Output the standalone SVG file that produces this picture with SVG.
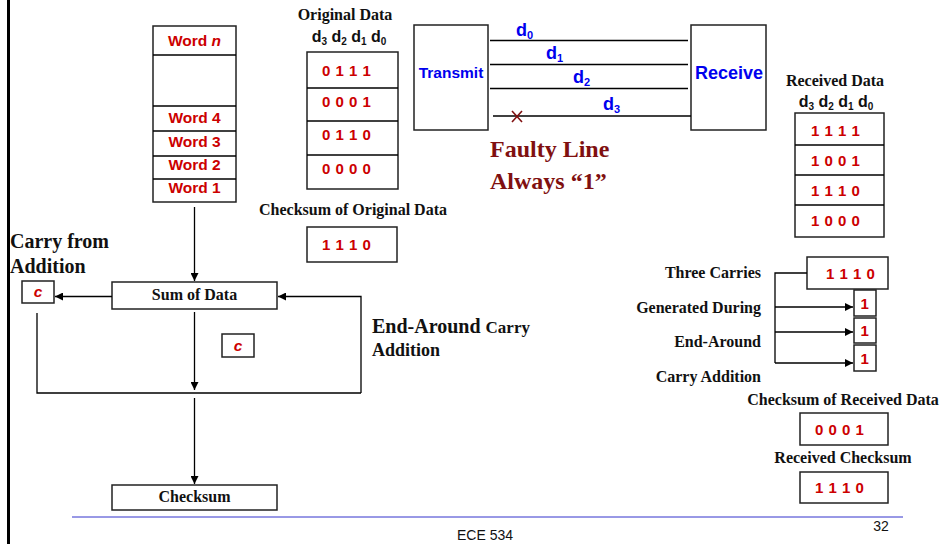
<svg xmlns="http://www.w3.org/2000/svg" width="952" height="544" viewBox="0 0 952 544">
<defs>
<marker id="ah" viewBox="0 0 10 10" refX="10" refY="5" markerWidth="8" markerHeight="8" markerUnits="userSpaceOnUse" orient="auto"><path d="M0,0 L10,5 L0,10 z" fill="#000"/></marker>
<style>
.box{fill:#fff;stroke:#222;stroke-width:1.5}
.ln{stroke:#000;stroke-width:1.3;fill:none}
.arr{stroke:#000;stroke-width:1.3;fill:none;marker-end:url(#ah)}
.w{font-family:"Liberation Sans",Arial,sans-serif;font-weight:bold;font-size:15.5px;fill:#cc0000}
.bits{font-family:"Liberation Sans",Arial,sans-serif;font-weight:bold;font-size:15px;fill:#cc0000;letter-spacing:0.5px}
.tb{font-family:"Liberation Serif","Times New Roman",serif;font-weight:bold;font-size:16px;fill:#111}
.hd{font-family:"Liberation Sans",Arial,sans-serif;font-weight:bold;font-size:16px;fill:#111}
.sub{font-size:10px}
.bl{font-family:"Liberation Sans",Arial,sans-serif;font-weight:bold;fill:#0000ee}
.fl{font-family:"Liberation Serif","Times New Roman",serif;font-weight:bold;font-size:24px;fill:#801010}
.big{font-family:"Liberation Serif","Times New Roman",serif;font-weight:bold;fill:#111}
</style>
</defs>
<rect width="952" height="544" fill="#fff"/>
<line x1="8.5" y1="0" x2="8.5" y2="544" stroke="#000" stroke-width="3"/>

<g id="words">
<rect class="box" x="153" y="26" width="83" height="176"/>
<line class="ln" x1="153" y1="55" x2="236" y2="55"/>
<line class="ln" x1="153" y1="106" x2="236" y2="106"/>
<line class="ln" x1="153" y1="131" x2="236" y2="131"/>
<line class="ln" x1="153" y1="156" x2="236" y2="156"/>
<line class="ln" x1="153" y1="179" x2="236" y2="179"/>
<text class="w" x="194.5" y="46" text-anchor="middle">Word <tspan font-style="italic">n</tspan></text>
<text class="w" x="194.5" y="123" text-anchor="middle">Word 4</text>
<text class="w" x="194.5" y="147" text-anchor="middle">Word 3</text>
<text class="w" x="194.5" y="170" text-anchor="middle">Word 2</text>
<text class="w" x="194.5" y="193" text-anchor="middle">Word 1</text>
</g>

<g id="original-data">
<text class="tb" x="345" y="20" text-anchor="middle">Original Data</text>
<text class="hd" x="349" y="42" text-anchor="middle">d<tspan class="sub" dy="3">3</tspan><tspan dy="-3"> d</tspan><tspan class="sub" dy="3">2</tspan><tspan dy="-3"> d</tspan><tspan class="sub" dy="3">1</tspan><tspan dy="-3"> d</tspan><tspan class="sub" dy="3">0</tspan></text>
<rect class="box" x="307" y="52" width="91" height="137"/>
<line class="ln" x1="307" y1="88" x2="398" y2="88"/>
<line class="ln" x1="307" y1="121" x2="398" y2="121"/>
<line class="ln" x1="307" y1="155" x2="398" y2="155"/>
<text class="bits" x="322" y="76">0 1 1 1</text>
<text class="bits" x="322" y="107">0 0 0 1</text>
<text class="bits" x="322" y="140">0 1 1 0</text>
<text class="bits" x="322" y="174">0 0 0 0</text>
</g>

<g id="orig-checksum">
<text class="tb" x="353" y="215" text-anchor="middle">Checksum of Original Data</text>
<rect class="box" x="307" y="227" width="90" height="35"/>
<text class="bits" x="322" y="250">1 1 1 0</text>
</g>

<g id="transmit">
<rect class="box" x="414" y="25" width="74" height="105"/>
<text class="bl" x="451" y="78" font-size="15.5" text-anchor="middle">Transmit</text>
</g>
<g id="receive">
<rect class="box" x="691" y="25" width="75" height="105"/>
<text class="bl" x="729" y="79" font-size="18" text-anchor="middle">Receive</text>
</g>

<g id="bus">
<line class="ln" x1="490" y1="40.5" x2="688" y2="40.5"/>
<line class="ln" x1="490" y1="64.5" x2="688" y2="64.5"/>
<line class="ln" x1="490" y1="88.5" x2="688" y2="88.5"/>
<line class="ln" x1="493" y1="116" x2="691" y2="116"/>
<text class="bl" x="516" y="36" font-size="18">d<tspan font-size="11" dy="3">0</tspan></text>
<text class="bl" x="546" y="59" font-size="18">d<tspan font-size="11" dy="3">1</tspan></text>
<text class="bl" x="573" y="83" font-size="18">d<tspan font-size="11" dy="3">2</tspan></text>
<text class="bl" x="603" y="110" font-size="18">d<tspan font-size="11" dy="3">3</tspan></text>
<path d="M512,111 L522,122 M522,111 L512,122" stroke="#801010" stroke-width="1.6" fill="none"/>
</g>

<g id="faulty-label">
<text class="fl" x="490" y="157">Faulty Line</text>
<text class="fl" x="490" y="189">Always “1”</text>
</g>

<g id="received-data">
<text class="tb" x="835" y="86" text-anchor="middle">Received Data</text>
<text class="hd" x="836" y="107" text-anchor="middle">d<tspan class="sub" dy="3">3</tspan><tspan dy="-3"> d</tspan><tspan class="sub" dy="3">2</tspan><tspan dy="-3"> d</tspan><tspan class="sub" dy="3">1</tspan><tspan dy="-3"> d</tspan><tspan class="sub" dy="3">0</tspan></text>
<rect class="box" x="795" y="113" width="89" height="124"/>
<line class="ln" x1="795" y1="145" x2="884" y2="145"/>
<line class="ln" x1="795" y1="175" x2="884" y2="175"/>
<line class="ln" x1="795" y1="205" x2="884" y2="205"/>
<text class="bits" x="811" y="136">1 1 1 1</text>
<text class="bits" x="811" y="166">1 0 0 1</text>
<text class="bits" x="811" y="196">1 1 1 0</text>
<text class="bits" x="811" y="226">1 0 0 0</text>
</g>

<g id="carry-label">
<text class="big" x="10" y="248" font-size="20">Carry from</text>
<text class="big" x="10" y="273" font-size="20">Addition</text>
</g>

<g id="sum-of-data">
<rect class="box" x="112" y="282" width="165" height="27"/>
<text class="tb" x="194.5" y="300" text-anchor="middle">Sum of Data</text>
</g>
<g id="carry-c1">
<rect class="box" x="22" y="281" width="32" height="22"/>
<text class="w" x="38" y="297" text-anchor="middle" font-style="italic" font-size="14">c</text>
</g>
<g id="carry-c2">
<rect class="box" x="222" y="334" width="32" height="23"/>
<text class="w" x="238" y="351" text-anchor="middle" font-style="italic" font-size="14">c</text>
</g>

<g id="end-around-label">
<text class="big" x="372" y="333" font-size="20">End-Around <tspan font-size="17">Carry</tspan></text>
<text class="big" x="372" y="356" font-size="18">Addition</text>
</g>

<g id="checksum">
<rect class="box" x="112" y="485" width="165" height="25"/>
<text class="tb" x="194.5" y="502" text-anchor="middle">Checksum</text>
</g>

<g id="three-carries-label">
<text class="tb" x="761" y="278" text-anchor="end">Three Carries</text>
<text class="tb" x="761" y="313" text-anchor="end">Generated During</text>
<text class="tb" x="761" y="347" text-anchor="end">End-Around</text>
<text class="tb" x="761" y="382" text-anchor="end">Carry Addition</text>
</g>
<g id="carries-sum">
<rect class="box" x="807" y="257" width="81" height="32"/>
<text class="bits" x="826" y="279">1 1 1 0</text>
</g>
<g id="carry-bits">
<rect class="box" x="854" y="290" width="22" height="26"/>
<rect class="box" x="854" y="318" width="22" height="25"/>
<rect class="box" x="854" y="345" width="22" height="26"/>
<text class="bits" x="865" y="309" text-anchor="middle">1</text>
<text class="bits" x="865" y="336" text-anchor="middle">1</text>
<text class="bits" x="865" y="364" text-anchor="middle">1</text>
</g>

<g id="recv-checksum">
<text class="tb" x="843" y="405" text-anchor="middle">Checksum of Received Data</text>
<rect class="box" x="800" y="413" width="88" height="32"/>
<text class="bits" x="815" y="435">0 0 0 1</text>
<text class="tb" x="843" y="463" text-anchor="middle">Received Checksum</text>
<rect class="box" x="800" y="472" width="88" height="31"/>
<text class="bits" x="815" y="493">1 1 1 0</text>
</g>

<g id="connectors">
<line class="arr" x1="194.5" y1="207" x2="194.5" y2="281"/>
<line class="arr" x1="112" y1="296.5" x2="55" y2="296.5"/>
<polyline class="arr" points="361,393 361,296.5 278,296.5"/>
<polyline class="ln" points="37,313 37,393 361,393"/>
<line class="arr" x1="194.5" y1="312" x2="194.5" y2="390"/>
<line class="arr" x1="194.5" y1="398" x2="194.5" y2="484"/>
<polyline class="ln" points="807,273 775,273 775,363"/>
<line class="arr" x1="775" y1="307" x2="853" y2="307"/>
<line class="arr" x1="775" y1="332" x2="853" y2="332"/>
<line class="arr" x1="775" y1="363" x2="853" y2="363"/>
</g>

<g id="footer">
<line x1="72" y1="517" x2="903" y2="517" stroke="#3333cc" stroke-width="1"/>
<text x="485" y="540" text-anchor="middle" font-family="Liberation Sans,Arial,sans-serif" font-size="14" fill="#111">ECE 534</text>
<text x="881" y="531" text-anchor="middle" font-family="Liberation Sans,Arial,sans-serif" font-size="14" fill="#111">32</text>
</g>
</svg>
